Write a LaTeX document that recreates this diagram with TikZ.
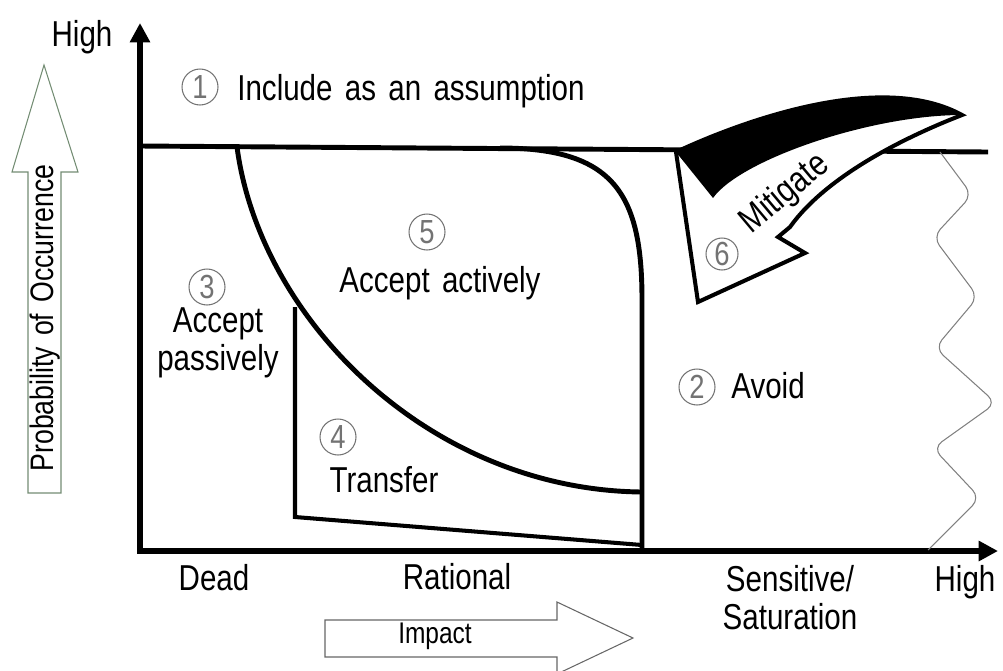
\documentclass[tikz,border=0pt]{standalone}
\usepackage{xcolor}
\usepackage{tikz}
\usetikzlibrary{shapes, arrows.meta, positioning}
\usepackage{fontspec}
\setmainfont{Liberation Sans}[FakeStretch=0.82, WordSpace=1.5]
\definecolor{numgray}{gray}{0.45}
\definecolor{boxline}{rgb}{0.45,0.55,0.45}

\begin{document}
\begin{tikzpicture}[x=0.02cm, y=-0.02cm,
    lbl/.style={font=\fontsize{20.5}{21.5}\selectfont, align=center, inner sep=0pt},
    num/.style={draw=numgray, circle, line width=0.6pt, minimum size=0.72cm, inner sep=0pt,
        text=numgray, font=\fontsize{19}{19}\selectfont},
    frameline/.style={line width=2.8pt},
    axis/.style={line width=3.8pt, {Triangle[length=11pt, width=11pt]}-{Triangle[length=11pt, width=11pt]}}]
\useasboundingbox (0,0) rectangle (1003,670);

% axes
\coordinate (o) at (140,551);
\coordinate (ytop) at (140,23);
\coordinate (xend) at (998,551);
\draw[axis] (ytop) -- (o) -- (xend);

% regions
\draw[frameline] (140,146) -- (988,152);
\draw[frameline] (237,147) .. controls (260,320) and (430,490) .. (642,492);
\draw[frameline] (500,148) .. controls (615,148) and (642,195) .. (642,300) -- (642,551);
\draw[line width=2.3pt] (295,307) -- (295,517) -- (642,545);

% wavy edge on the right
\draw[gray, line width=0.6pt, rounded corners=6pt] (940,152) -- (972,195) -- (933,237) -- (978,297)
    -- (935,348) -- (996,403) -- (933,448) -- (980,498) -- (928,550);

% mitigate arrow
\draw[line width=2.3pt, fill=white, line join=miter]
    (676,152) .. controls (740,122) and (880,70) .. (962,115)
    .. controls (890,143) and (822,182) .. (790,227)
    -- (778,237) -- (805,253) -- (698,302) -- cycle;
\fill (676,152) .. controls (740,122) and (880,70) .. (962,115)
    .. controls (870,115) and (740,160) .. (713,198) -- cycle;

% axis arrows
\draw[draw=boxline, line width=0.6pt] (28,493) -- (28,172) -- (12,172) -- (44,65) -- (78,172) -- (61,172) -- (61,493) -- cycle;
\node[rotate=90, inner sep=0pt, font=\fontsize{18.5}{18.5}\selectfont] (prob) at (45,318) {Probability of Occurrence};
\draw[draw=black!60, line width=0.6pt] (325,620) -- (557,620) -- (557,602) -- (633,638) -- (557,674) -- (557,657) -- (325,657) -- cycle;
\node[inner sep=0pt, font=\fontsize{17}{17}\selectfont] (impact) at (435,636) {Impact};

% labels
\node[lbl] (highy) at (82,37) {High};
\node[lbl] (highx) at (965,582) {High};
\node[lbl] (dead) at (214,578) {Dead};
\node[lbl] (rational) at (457,577) {Rational};
\node[lbl] (sens) at (790,598) {Sensitive/\\Saturation};
\node[num] (n1) at (200,87) {1};
\node[lbl, anchor=west] (include) at (237,91) {Include as an assumption};
\node[num] (n2) at (697,387) {2};
\node[lbl, anchor=west] (avoid) at (731,386) {Avoid};
\node[num] (n3) at (207,287) {3};
\node[lbl] (passive) at (218,343) {Accept\\passively};
\node[num] (n4) at (338,437) {4};
\node[lbl] (transfer) at (384,480) {Transfer};
\node[num] (n5) at (427,232) {5};
\node[lbl] (active) at (440,283) {Accept actively};
\node[num, minimum size=0.64cm] (n6) at (722,254) {6};
\node[lbl, rotate=40] (mitigate) at (785,194) {Mitigate};
\end{tikzpicture}
\end{document}
